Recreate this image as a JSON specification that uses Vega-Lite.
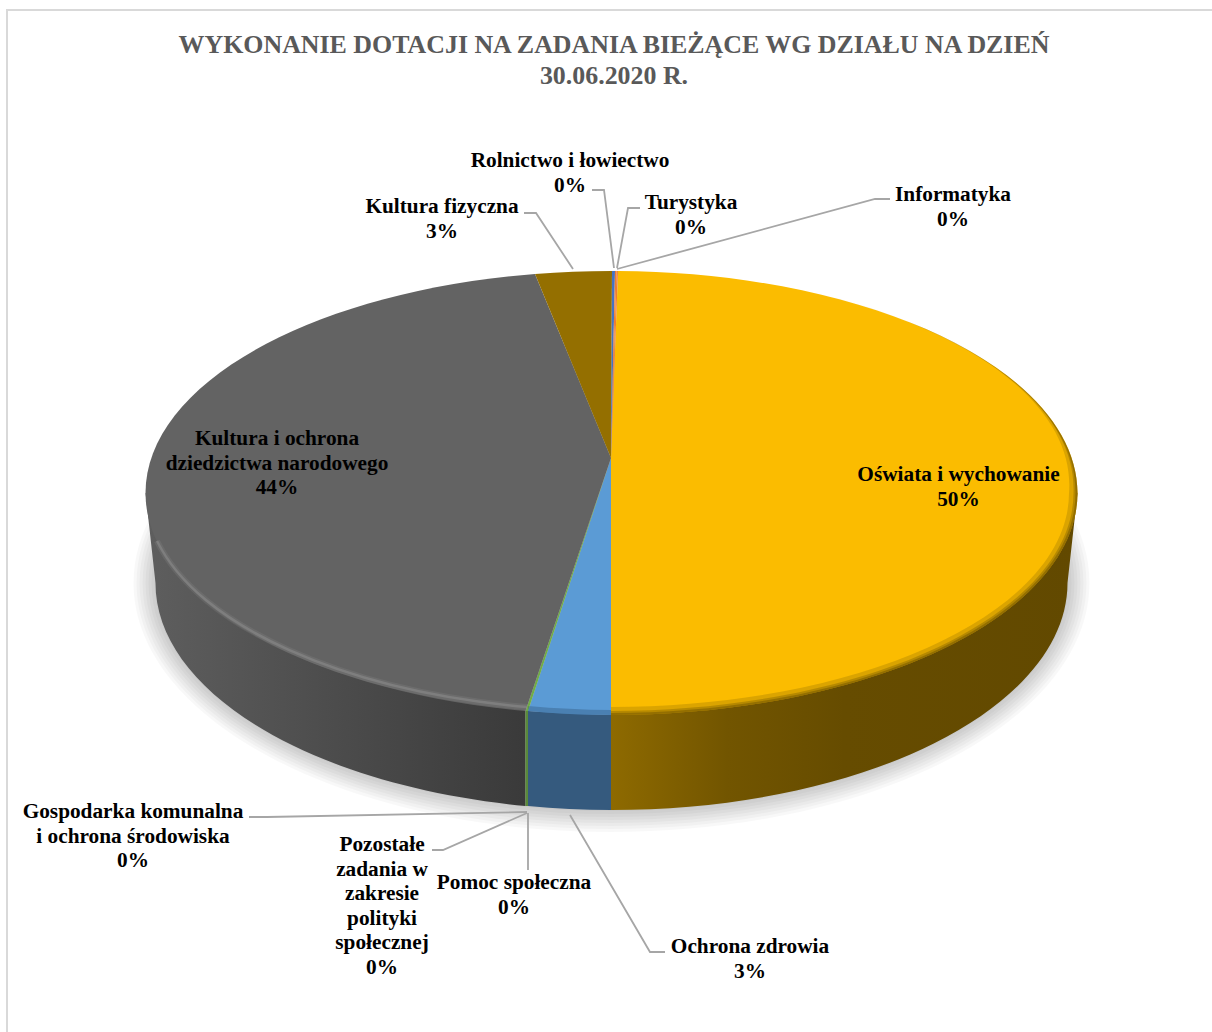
{
"$schema":"https://vega.github.io/schema/vega-lite/v6.json",
"width":1212,"height":1032,"padding":0,"autosize":{"type":"none"},"background":"white",
"config":{"view":{"stroke":null}},
"title":{"text":["WYKONANIE DOTACJI NA ZADANIA BIEŻĄCE WG DZIAŁU NA DZIEŃ","30.06.2020 R."],"font":"Liberation Serif","fontSize":25.9,"fontWeight":"bold","color":"#595959","anchor":"middle","dx":8,"offset":-110,"lineHeight":31,"baseline":"alphabetic"},
"data":{"values":[
{"nr":1,"dzial":"Oświata i wychowanie","procent":50,"etykieta":"Oświata i wychowanie\n50%"},
{"nr":2,"dzial":"Ochrona zdrowia","procent":3,"etykieta":"Ochrona zdrowia\n3%"},
{"nr":3,"dzial":"Gospodarka komunalna i ochrona środowiska","procent":0,"etykieta":"Gospodarka komunalna\ni ochrona środowiska\n0%"},
{"nr":4,"dzial":"Pozostałe zadania w zakresie polityki społecznej","procent":0,"etykieta":"Pozostałe\nzadania w\nzakresie\npolityki\nspołecznej\n0%"},
{"nr":5,"dzial":"Pomoc społeczna","procent":0,"etykieta":"Pomoc społeczna\n0%"},
{"nr":6,"dzial":"Kultura i ochrona dziedzictwa narodowego","procent":44,"etykieta":"Kultura i ochrona\ndziedzictwa narodowego\n44%"},
{"nr":7,"dzial":"Kultura fizyczna","procent":3,"etykieta":"Kultura fizyczna\n3%"},
{"nr":8,"dzial":"Rolnictwo i łowiectwo","procent":0,"etykieta":"Rolnictwo i łowiectwo\n0%"},
{"nr":9,"dzial":"Turystyka","procent":0,"etykieta":"Turystyka\n0%"},
{"nr":10,"dzial":"Informatyka","procent":0,"etykieta":"Informatyka\n0%"}
]},
"resolve":{"scale":{"shape":"independent","fill":"independent","stroke":"independent","x":"independent","y":"independent"}},
"layer":[
{"data":{"values":[{"element":"ramka"}]},"mark":{"type":"point","shape":"M-599,516 L-599,-506 L606,-506","size":4,"filled":false,"stroke":"#d9d9d9","strokeWidth":2,"opacity":1},"encoding":{}},
{"data":{"values":[{"warstwa":"a"},{"warstwa":"b"},{"warstwa":"c"},{"warstwa":"d"},{"warstwa":"e"},{"warstwa":"f"},{"warstwa":"g"},{"warstwa":"h"}]},"mark":{"type":"point","size":4,"filled":true,"opacity":0.028,"fill":"#000000"},
 "encoding":{"shape":{"field":"warstwa","type":"nominal","legend":null,"scale":{"domain":["a","b","c","d","e","f","g","h"],"range":[
  "M-472.5,67 A478,249 0 1 1 483.5,67 A478,249 0 1 1 -472.5,67 Z",
  "M-469.5,67 A475,246 0 1 1 480.5,67 A475,246 0 1 1 -469.5,67 Z",
  "M-466.5,67 A472,243 0 1 1 477.5,67 A472,243 0 1 1 -466.5,67 Z",
  "M-463.5,67 A469,240 0 1 1 474.5,67 A469,240 0 1 1 -463.5,67 Z",
  "M-460.5,67 A466,237 0 1 1 471.5,67 A466,237 0 1 1 -460.5,67 Z",
  "M-457.5,67 A463,234 0 1 1 468.5,67 A463,234 0 1 1 -457.5,67 Z",
  "M-454.5,67 A460,231 0 1 1 465.5,67 A460,231 0 1 1 -454.5,67 Z",
  "M-451.5,67 A457,228 0 1 1 462.5,67 A457,228 0 1 1 -451.5,67 Z"]}}}},
{"transform":[{"filter":{"field":"nr","equal":1}}],"mark":{"type":"point","shape":"M5,199 L5,294 A456,227 0 0 0 461.5,67 L471.5,-23 Z","size":4,"filled":true,"opacity":1,"fill":{"gradient":"linear","x1":0,"y1":0,"x2":1,"y2":0,"stops":[{"offset":0,"color":"#8e6a00"},{"offset":0.25,"color":"#725500"},{"offset":0.5,"color":"#664c00"},{"offset":1,"color":"#624900"}]}},"encoding":{}},
{"transform":[{"filter":{"field":"nr","equal":6}}],"mark":{"type":"point","shape":"M-80.5,195 L-80.5,290 A456,227 0 0 1 -450.5,67 L-460.5,-23 Z","size":4,"filled":true,"opacity":1,"fill":{"gradient":"linear","x1":0,"y1":0,"x2":1,"y2":0,"stops":[{"offset":0,"color":"#5e5e5e"},{"offset":0.5,"color":"#4c4c4c"},{"offset":1,"color":"#3a3a3a"}]}},"encoding":{}},
{"transform":[{"filter":{"field":"nr","oneOf":[2,3]}}],"mark":{"type":"point","size":4,"filled":true,"opacity":1},
 "encoding":{
  "shape":{"field":"dzial","type":"nominal","legend":null,"scale":{"domain":["Ochrona zdrowia","Gospodarka komunalna i ochrona środowiska"],"range":["M5,199 L5,294 A456,227 0 0 1 -78,290 L-78,195 Z","M-78,195 L-78,290 A456,227 0 0 1 -80.5,290 L-80.5,195 Z"]}},
  "fill":{"field":"dzial","type":"nominal","legend":null,"scale":{"domain":["Ochrona zdrowia","Gospodarka komunalna i ochrona środowiska"],"range":["#355a7e","#5a8a3a"]}}}},
{"transform":[{"filter":{"field":"nr","oneOf":[1,2,3,6,7,8,9,10]}}],"mark":{"type":"point","size":4,"filled":true,"opacity":1},
 "encoding":{
  "shape":{"field":"dzial","type":"nominal","legend":null,"scale":{"domain":["Oświata i wychowanie","Ochrona zdrowia","Gospodarka komunalna i ochrona środowiska","Kultura i ochrona dziedzictwa narodowego","Kultura fizyczna","Rolnictwo i łowiectwo","Turystyka","Informatyka"],"range":[
   "M5,-58 L12,-245 A466,222 0 0 1 471.5,-23 A466,222 0 0 1 5,199 Z",
   "M5,-58 L5,199 A466,222 0 0 1 -78,195 Z",
   "M5,-58 L-78,195 A466,222 0 0 1 -80.5,195 Z",
   "M5,-58 L-80.5,195 A466,222 0 0 1 -460.5,-23 A466,222 0 0 1 -71,-242 Z",
   "M5,-58 L-71,-242 A466,222 0 0 1 6,-245 Z",
   "M5,-58 L6,-245 L9,-245 Z",
   "M5,-58 L9,-245 L10.5,-245 Z",
   "M5,-58 L10.5,-245 L12,-245 Z"]}},
  "fill":{"field":"dzial","type":"nominal","legend":null,"scale":{"domain":["Oświata i wychowanie","Ochrona zdrowia","Gospodarka komunalna i ochrona środowiska","Kultura i ochrona dziedzictwa narodowego","Kultura fizyczna","Rolnictwo i łowiectwo","Turystyka","Informatyka"],"range":["#fbbc00","#5b9bd5","#70ad47","#636363","#946f00","#4472c4","#ed7d31","#ed7d31"]}}}},
{"transform":[{"filter":{"field":"nr","equal":1}}],"mark":{"type":"point","shape":"M200,-225 A466,222 0 0 1 471.5,-23 A466,222 0 0 1 5,199 L5,191 A458,214 0 0 0 463,-23 A458,214 0 0 0 200,-225 Z","size":4,"filled":true,"opacity":0.22,"fill":"#6b5000"},"encoding":{}},
{"transform":[{"filter":{"field":"nr","equal":1}}],"mark":{"type":"point","shape":"M300,-195 A466,222 0 0 1 471.5,-23 A466,222 0 0 1 5,199 L5,195 A462,218 0 0 0 467.5,-23 A462,218 0 0 0 300,-195 Z","size":4,"filled":true,"opacity":0.32,"fill":"#6b5000"},"encoding":{}},
{"transform":[{"filter":{"field":"nr","equal":1}}],"mark":{"type":"point","shape":"M350,-172 A466,222 0 0 1 471.5,-23 A466,222 0 0 1 5,199 L5,197 A464,220 0 0 0 469.5,-23 A464,220 0 0 0 350,-172 Z","size":4,"filled":true,"opacity":0.45,"fill":"#6b5000"},"encoding":{}},
{"transform":[{"filter":{"field":"nr","equal":2}}],"mark":{"type":"point","shape":"M5,196.5 A466,219.5 0 0 1 -78,192.5","size":4,"filled":false,"opacity":0.35,"stroke":"#2c4f72","strokeWidth":5},"encoding":{}},
{"transform":[{"filter":{"field":"nr","equal":6}}],"mark":{"type":"point","shape":"M-449,25 A466,218 0 0 0 -79,191","size":4,"filled":false,"opacity":0.22,"stroke":"#8e8e8e","strokeWidth":6},"encoding":{}},
{"transform":[{"filter":{"field":"nr","equal":6}}],"mark":{"type":"point","shape":"M-449,25 A466,218 0 0 0 -79,191","size":4,"filled":false,"opacity":0.42,"stroke":"#989898","strokeWidth":2.5},"encoding":{}},
{"mark":{"type":"point","size":4,"filled":false,"opacity":1,"stroke":"#a6a6a6","strokeWidth":1.8},
 "encoding":{
  "shape":{"field":"dzial","type":"nominal","legend":null,"scale":{"domain":["Informatyka","Turystyka","Rolnictwo i łowiectwo","Kultura fizyczna","Gospodarka komunalna i ochrona środowiska","Pozostałe zadania w zakresie polityki społecznej","Pomoc społeczna","Ochrona zdrowia","Oświata i wychowanie","Kultura i ochrona dziedzictwa narodowego"],"range":[
   "M284,-317 L269,-317 L11,-247",
   "M34,-308 L22,-308 L11,-248",
   "M-14,-326 L-2,-326 L8,-248",
   "M-82,-303 L-70,-303 L-33,-247",
   "M-357,301 L-339,301 L-79,296",
   "M-174,334 L-163,334 L-79,297",
   "M-78,297 L-78,354",
   "M-36,299 L44,436 L59,436",
   "M0,0","M0,0"]}}}},
{"mark":{"type":"text","font":"Liberation Serif","fontSize":21.3,"fontWeight":"bold","color":"#000000","align":"center","baseline":"alphabetic","lineBreak":"\n","lineHeight":24.6},
 "encoding":{
  "text":{"field":"etykieta","type":"nominal"},
  "x":{"field":"nr","type":"quantitative","axis":null,"scale":{"domain":[1,2,3,4,5,6,7,8,9,10],"range":[958.5,750,133,382,514,277,442,570,691,953],"nice":false,"zero":false}},
  "y":{"field":"nr","type":"quantitative","axis":null,"scale":{"domain":[1,2,3,4,5,6,7,8,9,10],"range":[481,953,818,851,889,445,213,167,209,201],"nice":false,"zero":false}}}}
]
}
